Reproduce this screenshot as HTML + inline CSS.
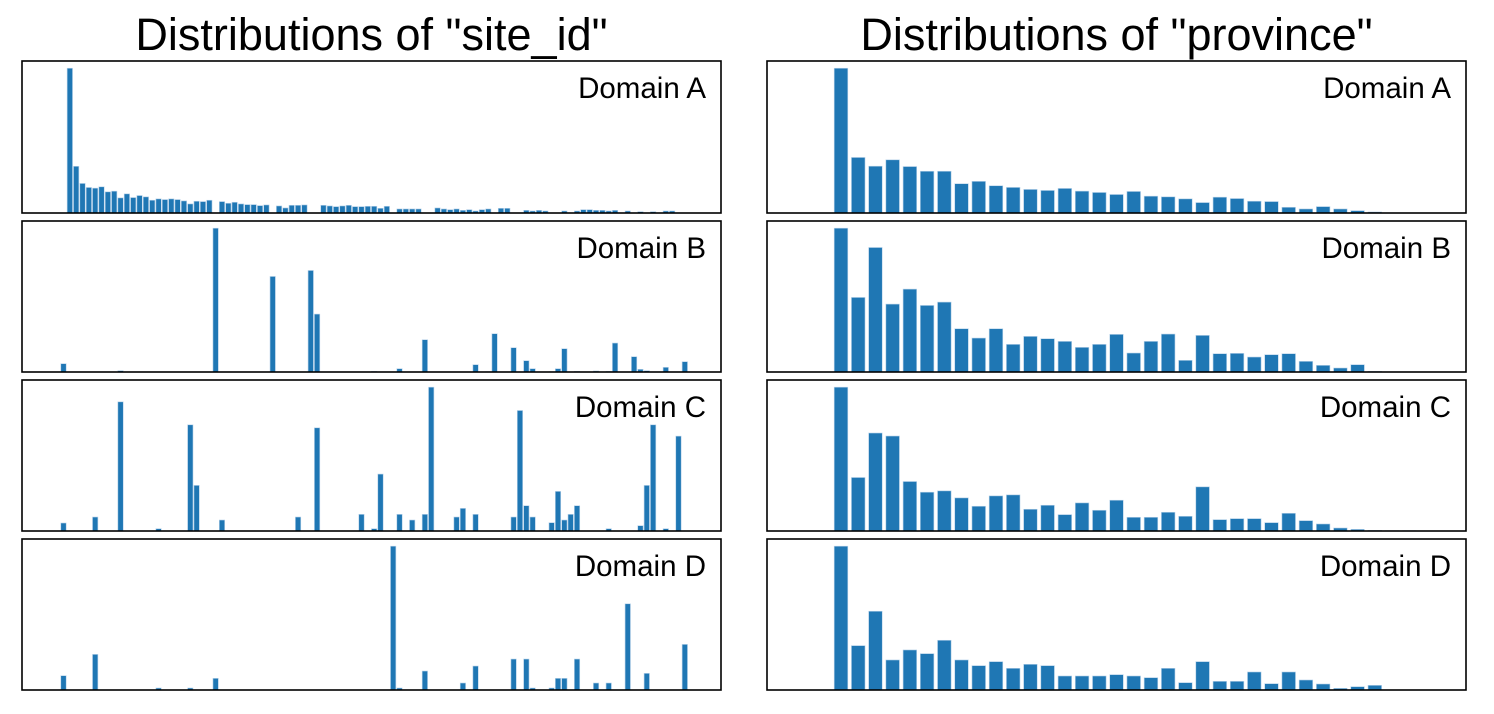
<!DOCTYPE html>
<html><head><meta charset="utf-8"><style>
html,body{margin:0;padding:0;background:#fff;}
svg{display:block;font-family:"Liberation Sans",Arial,sans-serif;}
</style></head><body>
<svg id="chart" width="1494" height="714" viewBox="0 0 1494 714"></svg>
<script>
// site_id data (left column), 99 categories
const siteCount = 99;
const siteValA = [0,431,139,88,76,74,78,63,65,45,57,46,52,48,38,42,40,42,40,36,27,35,34,38,0,34,29,32,27,25,25,22,24,0,21,15,23,23,24,0,0,23,21,19,21,23,19,19,20,20,14,20,0,12,12,12,12,0,0,15,12,10,12,8,10,6,10,12,0,14,14,0,0,8,6,8,6,0,0,6,0,6,10,10,8,8,6,8,0,6,0,4,0,4,0,6,6,0,0];
const siteIdxB = [0,9,24,33,39,40,49,53,57,65,67,68,71,73,74,77,78,79,81,84,86,87,90,91,92,95,98];
const siteValB = [25,4,432,287,305,174,2,10,97,22,1,115,73,34,10,1,10,70,2,3,2,87,46,8,4,14,31];
const siteIdxC = [0,5,9,15,20,21,25,37,40,47,49,50,53,55,57,58,62,63,65,71,72,73,74,77,78,79,80,81,86,91,92,93,95,97];
const siteValC = [24,42,388,7,319,137,33,42,310,50,7,171,50,33,50,432,42,68,50,42,362,76,42,25,119,33,50,76,7,16,137,319,7,285];
const siteIdxD = [0,5,15,20,24,52,53,57,63,65,71,73,74,77,78,79,81,84,86,89,92,98];
const siteValD = [43,107,6,6,35,432,6,57,21,72,93,93,6,6,35,35,93,21,21,259,50,137];
// province data (right column)
const provCount = 34;
const provValA = [430,165,139,158,138,124,124,87,94,81,76,70,67,73,65,61,55,64,50,48,42,31,47,43,35,34,17,12,19,12,7,3,0,0];
const provValB = [432,224,374,204,249,200,210,130,102,130,83,107,100,92,74,83,113,57,92,114,35,110,55,56,45,52,55,32,20,12,22,2,0,0];
const provValC = [430,160,293,284,148,116,120,99,74,105,108,65,77,49,84,62,92,41,41,56,44,132,34,37,37,25,53,31,21,9,5,2,1,1];
const provValD = [431,133,236,90,120,109,149,90,73,85,65,77,73,42,42,42,46,42,37,65,22,85,26,26,54,19,54,30,18,5,10,14,0,0];
const domainLabels = ["Domain A","Domain B","Domain C","Domain D"];
const titles = ['Distributions of "site_id"','Distributions of "province"'];

const NS="http://www.w3.org/2000/svg";
const svg=document.getElementById('chart');
function mk(tag,attrs){const e=document.createElementNS(NS,tag);for(const k in attrs)e.setAttribute(k,attrs[k]);return e;}
function dense(idx,val,n){const a=new Array(n).fill(0);idx.forEach((i,j)=>a[i]=val[j]);return a;}

const rowsY=[[61,213],[221,372],[380,531],[539,690]];
const cols=[{x0:22,x1:721,first:63.5,pitch:6.34,bw:5.4,n:siteCount,
  series:[siteValA,dense(siteIdxB,siteValB,siteCount),dense(siteIdxC,siteValC,siteCount),dense(siteIdxD,siteValD,siteCount)]},
 {x0:767,x1:1466,first:841,pitch:17.22,bw:13.6,n:provCount,series:[provValA,provValB,provValC,provValD]}];

cols.forEach((c,ci)=>{
  const t=mk('text',{x:(c.x0+c.x1)/2,y:50,'text-anchor':'middle','font-size':'45',fill:'#000'});
  t.textContent=titles[ci];
  
  
  svg.appendChild(t);
  c.series.forEach((vals,ri)=>{
    const [y0,y1]=rowsY[ri];
    const g=mk('g',{});
    
    
    const max=Math.max(...vals);
    const ys=v=>y1-(v/(max*1.05))*(y1-y0);
    const xs=i=>c.first+i*c.pitch;
    vals.forEach((v,i)=>{
      if(v<=0)return;
      const r=mk('rect',{x:xs(i)-c.bw/2,y:ys(v),width:c.bw,height:y1-ys(v),fill:'#1f77b4',stroke:'#b9d3ea','stroke-width':'0.6'});
      
      
      g.appendChild(r);
    });
    const f=mk('rect',{x:c.x0,y:y0,width:c.x1-c.x0,height:y1-y0,fill:'none',stroke:'#000','stroke-width':'1.6'});
    
    
    g.appendChild(f);
    const l=mk('text',{x:c.x1-15,y:y0+37,'text-anchor':'end','font-size':'29.5',fill:'#000'});
    l.textContent=domainLabels[ri];
    
    
    g.appendChild(l);
    svg.appendChild(g);
  });
});
</script>
</body></html>
